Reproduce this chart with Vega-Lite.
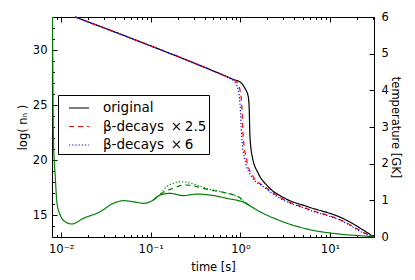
{
  "$schema": "https://vega.github.io/schema/vega-lite/v6.json",
  "width": 322,
  "height": 220,
  "autosize": {"type": "none"},
  "padding": {"left": 52, "top": 17, "right": 41, "bottom": 43},
  "config": {
    "font": "DejaVu Sans",
    "view": {"stroke": "black", "strokeWidth": 1},
    "axis": {
      "grid": false, "domain": false,
      "labelFont": "DejaVu Sans", "labelFontSize": 11.5, "labelColor": "black",
      "titleFont": "DejaVu Sans", "titleFontSize": 11.5, "titleFontWeight": "normal", "titleColor": "black",
      "tickColor": "black", "tickWidth": 1, "labelOverlap": false, "labelFlush": false
    }
  },
  "datasets": {
    "nn": [
      {"t": 0.01432, "v": 33.0, "run": "original"},
      {"t": 0.0760, "v": 30.75, "run": "original"},
      {"t": 0.521, "v": 28.03, "run": "original"},
      {"t": 0.871, "v": 27.27, "run": "original"},
      {"t": 0.99, "v": 27.1, "run": "original"},
      {"t": 1.125, "v": 26.52, "run": "original"},
      {"t": 1.225, "v": 25.75, "run": "original"},
      {"t": 1.256, "v": 24.55, "run": "original"},
      {"t": 1.279, "v": 22.12, "run": "original"},
      {"t": 1.358, "v": 20.30, "run": "original"},
      {"t": 1.585, "v": 18.79, "run": "original"},
      {"t": 2.046, "v": 17.57, "run": "original"},
      {"t": 3.141, "v": 16.52, "run": "original"},
      {"t": 5.675, "v": 15.75, "run": "original"},
      {"t": 13.58, "v": 14.73, "run": "original"},
      {"t": 26.49, "v": 13.36, "run": "original"},
      {"t": 30.9, "v": 13.0, "run": "original"},
      {"t": 0.01432, "v": 33.0, "run": "β-decays × 2.5"},
      {"t": 0.0760, "v": 30.75, "run": "β-decays × 2.5"},
      {"t": 0.521, "v": 28.03, "run": "β-decays × 2.5"},
      {"t": 0.766, "v": 27.45, "run": "β-decays × 2.5"},
      {"t": 0.871, "v": 27.25, "run": "β-decays × 2.5"},
      {"t": 0.947, "v": 26.82, "run": "β-decays × 2.5"},
      {"t": 0.991, "v": 26.36, "run": "β-decays × 2.5"},
      {"t": 1.034, "v": 25.15, "run": "β-decays × 2.5"},
      {"t": 1.076, "v": 22.12, "run": "β-decays × 2.5"},
      {"t": 1.175, "v": 20.0, "run": "β-decays × 2.5"},
      {"t": 1.393, "v": 18.48, "run": "β-decays × 2.5"},
      {"t": 1.879, "v": 17.57, "run": "β-decays × 2.5"},
      {"t": 2.884, "v": 16.52, "run": "β-decays × 2.5"},
      {"t": 5.675, "v": 15.55, "run": "β-decays × 2.5"},
      {"t": 13.58, "v": 14.5, "run": "β-decays × 2.5"},
      {"t": 26.49, "v": 13.23, "run": "β-decays × 2.5"},
      {"t": 30.9, "v": 13.0, "run": "β-decays × 2.5"},
      {"t": 0.01432, "v": 33.0, "run": "β-decays × 6"},
      {"t": 0.0760, "v": 30.75, "run": "β-decays × 6"},
      {"t": 0.521, "v": 28.03, "run": "β-decays × 6"},
      {"t": 0.766, "v": 27.41, "run": "β-decays × 6"},
      {"t": 0.871, "v": 27.05, "run": "β-decays × 6"},
      {"t": 0.947, "v": 26.36, "run": "β-decays × 6"},
      {"t": 0.990, "v": 25.15, "run": "β-decays × 6"},
      {"t": 1.034, "v": 22.12, "run": "β-decays × 6"},
      {"t": 1.125, "v": 20.0, "run": "β-decays × 6"},
      {"t": 1.337, "v": 18.48, "run": "β-decays × 6"},
      {"t": 1.800, "v": 17.57, "run": "β-decays × 6"},
      {"t": 2.763, "v": 16.52, "run": "β-decays × 6"},
      {"t": 5.675, "v": 15.5, "run": "β-decays × 6"},
      {"t": 13.58, "v": 14.45, "run": "β-decays × 6"},
      {"t": 26.49, "v": 13.18, "run": "β-decays × 6"},
      {"t": 30.9, "v": 13.0, "run": "β-decays × 6"}
    ],
    "temp": [
      {"t": 0.00800, "T": 6.0, "run": "a"},
      {"t": 0.00820, "T": 2.65, "run": "a"},
      {"t": 0.00836, "T": 2.10, "run": "a"},
      {"t": 0.00857, "T": 1.69, "run": "a"},
      {"t": 0.00895, "T": 0.954, "run": "a"},
      {"t": 0.00975, "T": 0.60, "run": "a"},
      {"t": 0.0111, "T": 0.417, "run": "a"},
      {"t": 0.01315, "T": 0.355, "run": "a"},
      {"t": 0.01774, "T": 0.51, "run": "a"},
      {"t": 0.02723, "T": 0.69, "run": "a"},
      {"t": 0.03828, "T": 0.92, "run": "a"},
      {"t": 0.04955, "T": 0.99, "run": "a"},
      {"t": 0.06982, "T": 0.946, "run": "a"},
      {"t": 0.0827, "T": 0.918, "run": "a"},
      {"t": 0.1069, "T": 1.009, "run": "a"},
      {"t": 0.1271, "T": 1.145, "run": "a"},
      {"t": 0.1641, "T": 1.19, "run": "a"},
      {"t": 0.2307, "T": 1.13, "run": "a"},
      {"t": 0.3258, "T": 1.17, "run": "a"},
      {"t": 0.4581, "T": 1.145, "run": "a"},
      {"t": 0.7031, "T": 1.055, "run": "a"},
      {"t": 1.125, "T": 0.93, "run": "a"},
      {"t": 1.346, "T": 0.818, "run": "a"},
      {"t": 1.654, "T": 0.69, "run": "a"},
      {"t": 2.646, "T": 0.464, "run": "a"},
      {"t": 5.715, "T": 0.21, "run": "a"},
      {"t": 13.46, "T": 0.074, "run": "a"},
      {"t": 29.1, "T": 0.008, "run": "a"},
      {"t": 30.9, "T": 0.0, "run": "a"},
      {"t": 0.1069, "T": 1.009, "run": "b"},
      {"t": 0.1271, "T": 1.16, "run": "b"},
      {"t": 0.1507, "T": 1.268, "run": "b"},
      {"t": 0.1786, "T": 1.327, "run": "b"},
      {"t": 0.2123, "T": 1.399, "run": "b"},
      {"t": 0.2518, "T": 1.418, "run": "b"},
      {"t": 0.3258, "T": 1.372, "run": "b"},
      {"t": 0.4581, "T": 1.282, "run": "b"},
      {"t": 0.6442, "T": 1.219, "run": "b"},
      {"t": 0.9897, "T": 1.072, "run": "b"},
      {"t": 1.125, "T": 0.95, "run": "b"},
      {"t": 1.346, "T": 0.818, "run": "b"},
      {"t": 0.1069, "T": 1.009, "run": "c"},
      {"t": 0.1271, "T": 1.17, "run": "c"},
      {"t": 0.1507, "T": 1.372, "run": "c"},
      {"t": 0.1786, "T": 1.464, "run": "c"},
      {"t": 0.2123, "T": 1.508, "run": "c"},
      {"t": 0.2518, "T": 1.492, "run": "c"},
      {"t": 0.3258, "T": 1.418, "run": "c"},
      {"t": 0.4581, "T": 1.30, "run": "c"},
      {"t": 0.6442, "T": 1.219, "run": "c"},
      {"t": 0.9897, "T": 1.055, "run": "c"},
      {"t": 1.125, "T": 0.94, "run": "c"},
      {"t": 1.346, "T": 0.818, "run": "c"}
    ]
  },
  "layer": [
    {
      "data": {"name": "nn"},
      "mark": {"type": "line", "strokeWidth": 1.2, "interpolate": "monotone"},
      "encoding": {
        "x": {
          "field": "t", "type": "quantitative",
          "scale": {"type": "log", "domain": [0.0079, 31], "nice": false},
          "axis": {
            "orient": "bottom", "title": "time [s]", "titlePadding": 4,
            "values": [0.009,0.01,0.02,0.03,0.04,0.05,0.06,0.07,0.08,0.09,0.1,0.2,0.3,0.4,0.5,0.6,0.7,0.8,0.9,1,2,3,4,5,6,7,8,9,10,20,30],
            "labelExpr": "datum.value == 0.01 ? '10⁻²' : datum.value == 0.1 ? '10⁻¹' : datum.value == 1 ? '10⁰' : datum.value == 10 ? '10¹' : ''",
            "tickSize": {"condition": {"test": "datum.value == 0.01 || datum.value == 0.1 || datum.value == 1 || datum.value == 10", "value": -5}, "value": -2.5},
            "labelPadding": 11
          }
        },
        "y": {
          "field": "v", "type": "quantitative",
          "scale": {"domain": [13, 33], "nice": false, "zero": false},
          "axis": {
            "orient": "left", "title": "log( nₙ )", "titlePadding": 4,
            "values": [13,14,15,16,17,18,19,20,21,22,23,24,25,26,27,28,29,30,31,32,33],
            "labelExpr": "datum.value % 5 == 0 ? datum.label : ''",
            "tickSize": {"condition": {"test": "datum.value % 5 == 0", "value": -5}, "value": -2.5},
            "labelPadding": 10
          }
        },
        "color": {
          "field": "run", "type": "nominal",
          "scale": {"domain": ["original", "β-decays × 2.5", "β-decays × 6"], "range": ["#000000", "#ff0000", "#0000ff"]},
          "legend": {
            "title": null, "orient": "none", "legendX": 6, "legendY": 78,
            "strokeColor": "black", "fillColor": "white", "padding": 2, "cornerRadius": 0,
            "symbolType": "stroke", "symbolSize": 400, "symbolStrokeWidth": 1.2, "symbolOffset": 8,
            "labelFont": "DejaVu Sans", "labelFontSize": 13.5, "labelColor": "black", "labelOffset": 13,
            "labelExpr": "replace(datum.label, ' × ', '\u2002×\u2009') + '\u00a0\u00a0\u00a0\u00a0'", "rowPadding": 0.5, "labelLimit": 300
          }
        },
        "strokeDash": {
          "field": "run", "type": "nominal",
          "scale": {"domain": ["original", "β-decays × 2.5", "β-decays × 6"], "range": [[1, 0], [5, 4], [1.2, 2]]},
          "legend": {
            "title": null, "orient": "none", "legendX": 6, "legendY": 78,
            "strokeColor": "black", "fillColor": "white", "padding": 2, "cornerRadius": 0,
            "symbolType": "stroke", "symbolSize": 400, "symbolStrokeWidth": 1.2, "symbolOffset": 8,
            "labelFont": "DejaVu Sans", "labelFontSize": 13.5, "labelColor": "black", "labelOffset": 13,
            "labelExpr": "replace(datum.label, ' × ', '\u2002×\u2009') + '\u00a0\u00a0\u00a0\u00a0'", "rowPadding": 0.5, "labelLimit": 300
          }
        }
      }
    },
    {
      "data": {"name": "temp"},
      "mark": {"type": "line", "color": "#008000", "strokeWidth": 1.2, "interpolate": "monotone", "clip": true},
      "encoding": {
        "x": {"field": "t", "type": "quantitative", "axis": null},
        "y": {
          "field": "T", "type": "quantitative",
          "scale": {"domain": [0, 6], "nice": false},
          "axis": {"orient": "right", "title": "temperature [GK]", "titlePadding": 1, "values": [0,1,2,3,4,5,6], "tickSize": -5, "labelPadding": 12}
        },
        "strokeDash": {
          "field": "run", "type": "nominal",
          "scale": {"domain": ["a", "b", "c"], "range": [[1, 0], [5, 4], [1.2, 2]]},
          "legend": null
        }
      }
    },
    {
      "data": {"name": "temp"},
      "mark": {"type": "point", "opacity": 0},
      "encoding": {
        "x": {
          "field": "t", "type": "quantitative",
          "axis": {
            "orient": "top", "title": null, "labels": false,
            "values": [0.009,0.01,0.02,0.03,0.04,0.05,0.06,0.07,0.08,0.09,0.1,0.2,0.3,0.4,0.5,0.6,0.7,0.8,0.9,1,2,3,4,5,6,7,8,9,10,20,30],
            "tickSize": {"condition": {"test": "datum.value == 0.01 || datum.value == 0.1 || datum.value == 1 || datum.value == 10", "value": -5}, "value": -2.5}
          }
        }
      }
    }
  ],
  "resolve": {
    "scale": {"y": "independent", "strokeDash": "independent", "color": "independent"},
    "axis": {"x": "independent", "y": "independent"}
  }
}
